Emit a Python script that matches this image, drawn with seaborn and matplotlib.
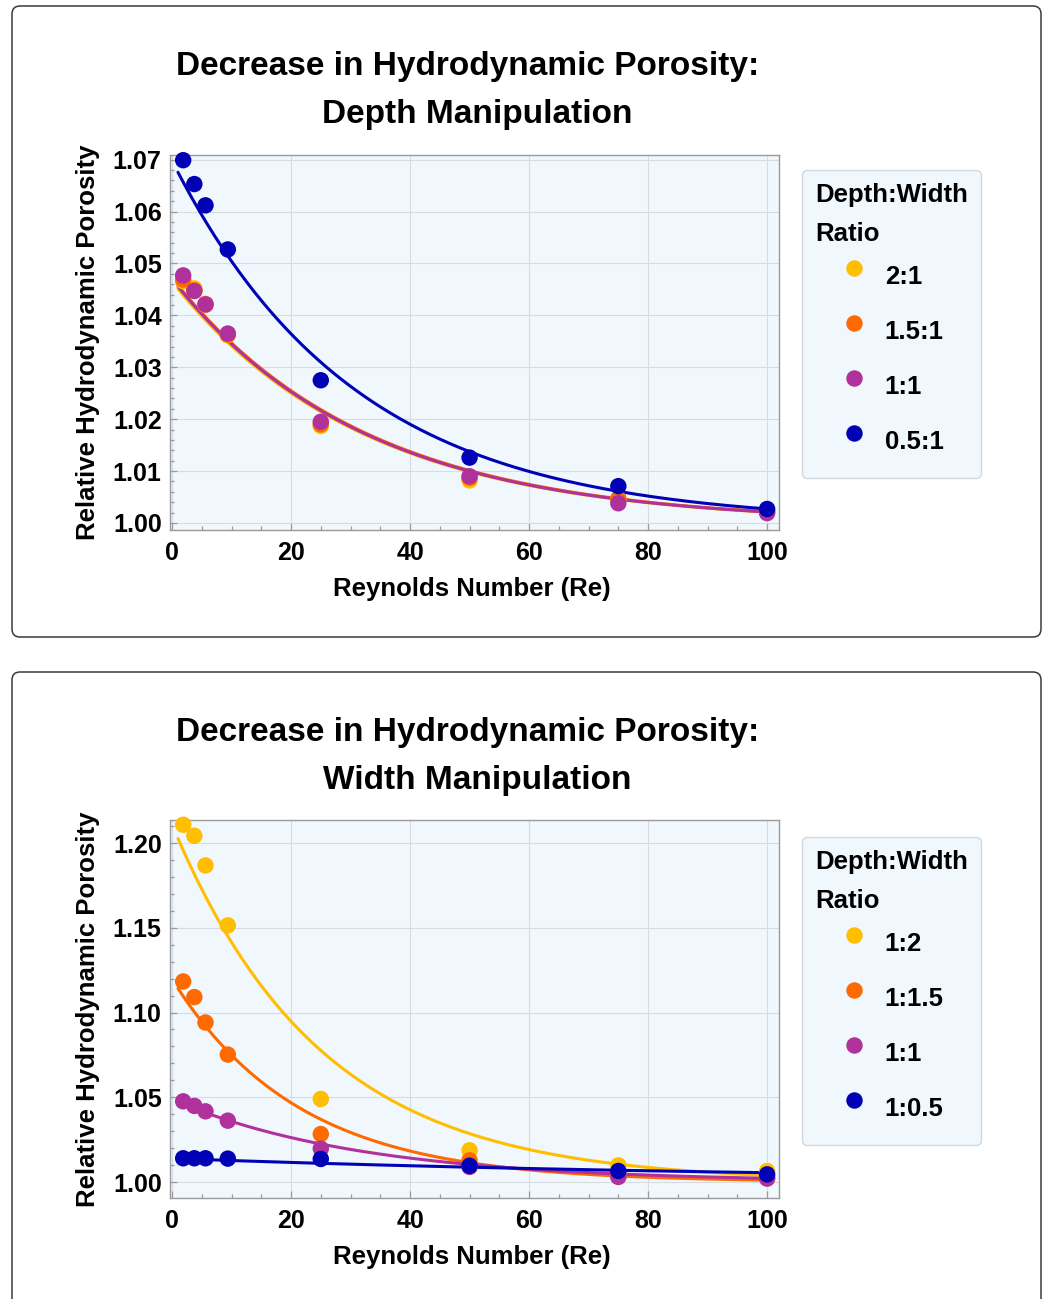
import numpy as np
import pandas as pd
import matplotlib
matplotlib.use("Agg")
import matplotlib.pyplot as plt
import seaborn as sns
from matplotlib.patches import FancyBboxPatch
from matplotlib.transforms import IdentityTransform
from matplotlib.ticker import MultipleLocator, FormatStrFormatter

# Reynolds numbers shared by every series
reynolds = [1.875, 3.75, 5.625, 9.375, 25, 50, 75, 100]
# range covered by the fitted curves
fit_range = (1.0, 100.0)

# Depth manipulation (depth:width ratios)
depth_labels = ["2:1", "1.5:1", "1:1", "0.5:1"]
depth_2_1 = [1.0466, 1.0452, 1.0420, 1.0362, 1.0187, 1.0082, 1.0045, 1.0022]
depth_15_1 = [1.0469, 1.0448, 1.0422, 1.0363, 1.0190, 1.0087, 1.0047, 1.0022]
depth_1_1 = [1.0477, 1.0447, 1.0421, 1.0365, 1.0195, 1.0090, 1.0038, 1.0019]
depth_05_1 = [1.0699, 1.0653, 1.0612, 1.0527, 1.0275, 1.0126, 1.0071, 1.0027]
# fitted decay 1 + b*exp(-c*Re) for each depth ratio
depth_fit_b = [0.0465, 0.0472, 0.0470, 0.0698]
depth_fit_c = [0.0310, 0.0308, 0.0310, 0.0325]

# Width manipulation (depth:width ratios)
width_labels = ["1:2", "1:1.5", "1:1", "1:0.5"]
width_1_2 = [1.2108, 1.2043, 1.1868, 1.1514, 1.0490, 1.0187, 1.0098, 1.0065]
width_1_15 = [1.1183, 1.1091, 1.0941, 1.0752, 1.0283, 1.0128, 1.0033, 1.0026]
width_1_1 = [1.0476, 1.0449, 1.0417, 1.0362, 1.0197, 1.0089, 1.0030, 1.0020]
width_1_05 = [1.0140, 1.0140, 1.0140, 1.0138, 1.0136, 1.0096, 1.0065, 1.0045]
# fitted decay 1 + b*exp(-c*Re) for each width ratio
width_fit_b = [0.2110, 0.1197, 0.0487, 0.0139]
width_fit_c = [0.0400, 0.0470, 0.0310, 0.0093]

colors = ["#FFBE00", "#FF6A00", "#B0309C", "#0000B5"]

sns.set_theme(style="white")
plt.rcParams["font.family"] = ["Liberation Sans", "DejaVu Sans"]
plt.rcParams["font.weight"] = "bold"
plt.rcParams["axes.labelweight"] = "bold"
plt.rcParams["text.color"] = "black"
plt.rcParams["xtick.labelcolor"] = "black"
plt.rcParams["ytick.labelcolor"] = "black"

FS = 18.5
W, H = 1047, 1299
fig = plt.figure(figsize=(W / 100, H / 100), dpi=100)
fig.patch.set_facecolor("white")


def panel(box_px, ax_px, title_lines, title_pos, labels, series, fit_b, fit_c,
          ylim, ymajor, yminor, legend_top):
    # rounded outer frame (pixel coordinates, y measured from top)
    x0, y0, x1, y1 = box_px
    frame = FancyBboxPatch((x0, H - y1), x1 - x0, y1 - y0,
                           boxstyle="round,pad=0,rounding_size=8",
                           transform=IdentityTransform(), facecolor="white",
                           edgecolor="#3a3a3a", linewidth=1.1, zorder=0)
    fig.add_artist(frame)

    l, t, r, b = ax_px
    ax = fig.add_axes([l / W, 1 - b / H, (r - l) / W, (b - t) / H])
    ax.set_facecolor("#F0F7FD")

    xs = np.array(reynolds, float)
    re_grid = np.linspace(*fit_range, 300)
    frames, curves = [], []
    for lab, vals, fb, fc in zip(labels, series, fit_b, fit_c):
        frames.append(pd.DataFrame({"Re": xs, "Porosity": vals, "Ratio": lab}))
        curves.append(pd.DataFrame({"Re": re_grid,
                                    "Porosity": 1.0 + fb * np.exp(-fc * re_grid),
                                    "Ratio": lab}))
    pts = pd.concat(frames, ignore_index=True)
    fits = pd.concat(curves, ignore_index=True)
    pal = dict(zip(labels, colors))

    for lab in labels:
        sns.lineplot(data=fits[fits["Ratio"] == lab], x="Re", y="Porosity",
                     color=pal[lab], linewidth=2.2, ax=ax, legend=False, zorder=2)
    sns.scatterplot(data=pts, x="Re", y="Porosity", hue="Ratio", hue_order=labels,
                    palette=pal, s=140, linewidth=0, ax=ax, zorder=3, clip_on=False)

    ax.set_xlim(-0.34, 102.0)
    ax.set_ylim(*ylim)
    ax.xaxis.set_major_locator(MultipleLocator(20))
    ax.xaxis.set_minor_locator(MultipleLocator(5))
    ax.yaxis.set_major_locator(MultipleLocator(ymajor))
    ax.yaxis.set_minor_locator(MultipleLocator(yminor))
    ax.yaxis.set_major_formatter(FormatStrFormatter("%.2f"))
    ax.tick_params(which="both", direction="in", color="#9a9a9a", width=0.9,
                   bottom=True, left=True, top=False, right=False)
    ax.tick_params(which="major", length=5, labelsize=18)
    ax.tick_params(which="minor", length=3)
    ax.tick_params(axis="y", pad=6)
    ax.tick_params(axis="x", pad=8)
    for lbl in ax.get_xticklabels() + ax.get_yticklabels():
        lbl.set_fontweight("bold")
    ax.grid(True, which="major", color="#D6DCE2", linewidth=0.8)
    for sp in ax.spines.values():
        sp.set_color("#9a9a9a")
        sp.set_linewidth(1.0)
    ax.set_xlabel("")
    ax.set_ylabel("")

    # titles and axis labels
    for line, (tx, ty) in zip(title_lines, title_pos):
        fig.text(tx / W, 1 - ty / H, line, ha="center", va="center",
                 fontsize=24, fontweight="bold", color="black")
    fig.text(472 / W, 1 - (b + 59) / H, "Reynolds Number (Re)",
             ha="center", va="center", fontsize=FS, fontweight="bold")
    fig.text(88 / W, 1 - (t + b) / 2 / H, "Relative Hydrodynamic Porosity",
             ha="center", va="center", rotation=90, fontsize=FS, fontweight="bold")

    handles, hl = ax.get_legend_handles_labels()
    if ax.legend_:
        ax.legend_.remove()
    leg = ax.legend(handles, hl, title="Depth:Width\nRatio", loc="upper left",
                    bbox_to_anchor=(802 / W, 1 - legend_top / H),
                    bbox_transform=fig.transFigure, borderaxespad=0,
                    fontsize=FS, title_fontproperties={"weight": "bold", "size": FS},
                    alignment="left", frameon=True, fancybox=True,
                    borderpad=0.5, handlelength=3.03, handletextpad=-0.31,
                    handleheight=2.49, labelspacing=0.27, markerscale=1.0)
    leg.get_title().set_linespacing(1.78)
    for txt in leg.get_texts():
        txt.set_fontweight("bold")
        txt.set_color("black")
    leg.get_title().set_color("black")
    fr = leg.get_frame()
    fr.set_facecolor("#F0F7FD")
    fr.set_edgecolor("#D4D8DC")
    fr.set_linewidth(1.0)
    fr.set_alpha(1.0)
    return ax


panel((12, 6, 1041, 637), (170, 155, 779, 530),
      ["Decrease in Hydrodynamic Porosity:", "Depth Manipulation"],
      [(468, 66), (477, 114)],
      depth_labels, [depth_2_1, depth_15_1, depth_1_1, depth_05_1],
      depth_fit_b, depth_fit_c,
      (0.99865, 1.0709), 0.01, 0.002, 170)

panel((12, 672, 1041, 1320), (170, 820, 779, 1198),
      ["Decrease in Hydrodynamic Porosity:", "Width Manipulation"],
      [(468, 732), (477, 780)],
      width_labels, [width_1_2, width_1_15, width_1_1, width_1_05],
      width_fit_b, width_fit_c,
      (0.99056, 1.2136), 0.05, 0.01, 837)

fig.savefig("out.png", dpi=100)
